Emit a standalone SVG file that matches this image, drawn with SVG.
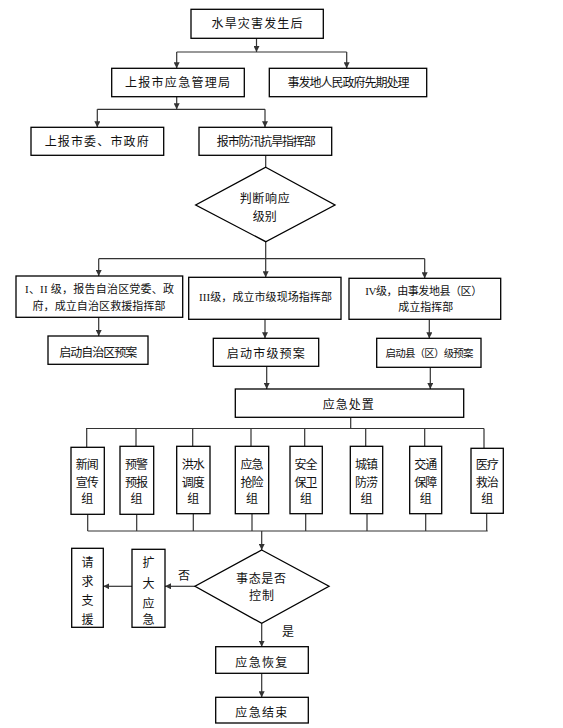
<svg xmlns="http://www.w3.org/2000/svg" width="563" height="728" viewBox="0 0 563 728">
<style>
.b{fill:#fff;stroke:#000;stroke-width:1.3}
.t{font-family:"Noto Sans CJK SC","Liberation Sans",sans-serif;font-size:12px;fill:#111;text-anchor:middle}
.s{font-size:11px}
.r{font-family:"Liberation Serif","Noto Sans CJK SC",serif}
.c path{fill:none;stroke:#333;stroke-width:1.2}
</style>
<defs>
<marker id="a" markerUnits="userSpaceOnUse" markerWidth="6" markerHeight="6" refX="6" refY="3" orient="auto">
<path d="M0,0 L6,3 L0,6 z" fill="#333"/>
</marker>
</defs>
<rect width="563" height="728" fill="#fff"/>
<g class="c">
<path d="M256.5,38.3 V52" marker-end="url(#a)"/>
<path d="M176.7,52 H346.7"/>
<path d="M176.7,52 V68.3" marker-end="url(#a)"/>
<path d="M346.7,52 V68.3" marker-end="url(#a)"/>
<path d="M176.7,96.7 V109.3" marker-end="url(#a)"/>
<path d="M97.3,109.3 H265"/>
<path d="M97.3,109.3 V127.3" marker-end="url(#a)"/>
<path d="M265,109.3 V127.3" marker-end="url(#a)"/>
<path d="M265.7,155.3 V167.3"/>
<path d="M265.7,241.7 V277.3" marker-end="url(#a)"/>
<path d="M98.7,258.7 H424.7"/>
<path d="M98.7,258.7 V276" marker-end="url(#a)"/>
<path d="M424.7,258.7 V278.3" marker-end="url(#a)"/>
<path d="M98.7,317.3 V336" marker-end="url(#a)"/>
<path d="M265,319.3 V338.3" marker-end="url(#a)"/>
<path d="M429.3,319.3 V338.3" marker-end="url(#a)"/>
<path d="M266.7,366.3 V389" marker-end="url(#a)"/>
<path d="M430.3,367.3 V389" marker-end="url(#a)"/>
<path d="M350.7,417.3 V428.5"/>
<path d="M86,428.5 H484"/>
<path d="M86.7,428.5 V447.3 M136,428.5 V446.3 M192.7,428.5 V446.3 M251,428.5 V446.3 M304.7,428.5 V446.3 M365.7,428.5 V446.3 M424.7,428.5 V446.3 M484,428.5 V448.3"/>
<path d="M87.7,514.3 V531 M136.7,514.3 V531 M193.3,513.7 V531 M252,513.7 V531 M305.7,513.7 V531 M367,513.7 V531 M425.7,513.7 V531 M486.7,513.3 V531"/>
<path d="M87.7,531 H487.7"/>
<path d="M261.7,531 V550" marker-end="url(#a)"/>
<path d="M195,586.3 H165" marker-end="url(#a)"/>
<path d="M132,586.3 H103.3" marker-end="url(#a)"/>
<path d="M261.7,623.3 V646.7" marker-end="url(#a)"/>
<path d="M261.7,673.3 V697.3" marker-end="url(#a)"/>
</g>
<g id="n1"><rect class="b" x="191" y="9.3" width="132.3" height="29"/><text class="t" x="257" y="28.3" textLength="91">水旱灾害发生后</text></g>
<g id="n2"><rect class="b" x="111.7" y="68.3" width="132.6" height="28.4"/><text class="t" x="177.5" y="86.8" textLength="105">上报市应急管理局</text></g>
<g id="n3"><rect class="b" x="269.3" y="68.3" width="157.4" height="28.4"/><text class="t" x="348.6" y="86.8" textLength="122">事发地人民政府先期处理</text></g>
<g id="n4"><rect class="b" x="31" y="127.3" width="132.7" height="28"/><text class="t" x="96.7" y="145.6" textLength="104">上报市委、市政府</text></g>
<g id="n5"><rect class="b" x="199" y="127.3" width="132.7" height="28"/><text class="t" x="266.3" y="145.6" textLength="99">报市防汛抗旱指挥部</text></g>
<g id="n6"><path class="b" d="M265.7,167.3 L335,205 L265.7,241.7 L195.7,205 Z"/><text class="t" x="264.7" y="203.3" textLength="50">判断响应</text><text class="t" x="264.7" y="221.3" textLength="24">级别</text></g>
<g id="n7"><rect class="b" x="16" y="276" width="166.7" height="41.3"/><text class="t s" x="99.5" y="292.6" textLength="149"><tspan class="r">I、II </tspan>级，报告自治区党委、政</text><text class="t s" x="99" y="310" textLength="133">府，成立自治区救援指挥部</text></g>
<g id="n8"><rect class="b" x="188.7" y="277.3" width="152.3" height="42"/><text class="t s" x="265.5" y="301" textLength="133"><tspan class="r">III</tspan>级，成立市级现场指挥部</text></g>
<g id="n9"><rect class="b" x="349" y="278.3" width="151.7" height="41"/><text class="t s" x="423.7" y="295" textLength="117"><tspan class="r">IV</tspan>级，由事发地县（区）</text><text class="t s" x="425.8" y="311" textLength="55">成立指挥部</text></g>
<g id="n10"><rect class="b" x="48" y="336" width="100" height="28.3"/><text class="t" x="98.3" y="356.6" textLength="78">启动自治区预案</text></g>
<g id="n11"><rect class="b" x="213.3" y="338.3" width="105.4" height="28"/><text class="t" x="265.8" y="357.6" textLength="78">启动市级预案</text></g>
<g id="n12"><rect class="b" x="376.7" y="338.3" width="104.3" height="29"/><text class="t" x="429.5" y="357.3" style="font-size:10.5px" textLength="88">启动县（区）级预案</text></g>
<g id="n13"><rect class="b" x="235.3" y="389" width="228.4" height="28.3"/><text class="t" x="348.3" y="408.6" textLength="51">应急处置</text></g>
<g id="g1"><rect class="b" x="71" y="447.3" width="33.3" height="67"/><text class="t" x="87.2" y="469.3" textLength="23">新闻</text><text class="t" x="87.2" y="486.6" textLength="23">宣传</text><text class="t" x="87.2" y="502.6">组</text></g>
<g id="g2"><rect class="b" x="120" y="446.3" width="33.7" height="68"/><text class="t" x="136.5" y="469.3" textLength="23">预警</text><text class="t" x="136.5" y="486.6" textLength="23">预报</text><text class="t" x="136.5" y="502.6">组</text></g>
<g id="g3"><rect class="b" x="176.7" y="446.3" width="33.3" height="67.4"/><text class="t" x="193.3" y="469.3" textLength="23">洪水</text><text class="t" x="193.3" y="486.6" textLength="23">调度</text><text class="t" x="193.3" y="502.6">组</text></g>
<g id="g4"><rect class="b" x="235.3" y="446.3" width="33.4" height="67.4"/><text class="t" x="252" y="469.3" textLength="23">应急</text><text class="t" x="252" y="486.6" textLength="23">抢险</text><text class="t" x="252" y="502.6">组</text></g>
<g id="g5"><rect class="b" x="290" y="446.3" width="32.3" height="67.4"/><text class="t" x="306" y="469.3" textLength="23">安全</text><text class="t" x="306" y="486.6" textLength="23">保卫</text><text class="t" x="306" y="502.6">组</text></g>
<g id="g6"><rect class="b" x="350.3" y="446.3" width="32.4" height="67.4"/><text class="t" x="366.5" y="469.3" textLength="23">城镇</text><text class="t" x="366.5" y="486.6" textLength="23">防涝</text><text class="t" x="366.5" y="502.6">组</text></g>
<g id="g7"><rect class="b" x="409.7" y="446.3" width="32" height="67.4"/><text class="t" x="425.7" y="469.3" textLength="23">交通</text><text class="t" x="425.7" y="486.6" textLength="23">保障</text><text class="t" x="425.7" y="502.6">组</text></g>
<g id="g8"><rect class="b" x="471" y="448.3" width="32.3" height="65"/><text class="t" x="487.2" y="469.3" textLength="23">医疗</text><text class="t" x="487.2" y="486.6" textLength="23">救治</text><text class="t" x="487.2" y="502.6">组</text></g>
<g id="n14"><path class="b" d="M261.7,550 L329,586.3 L261.7,623.3 L195,586.3 Z"/><text class="t" x="261" y="583.3" textLength="50">事态是否</text><text class="t" x="261.5" y="599.6" textLength="25">控制</text></g>
<g id="n15"><rect class="b" x="132" y="549.3" width="33" height="78"/><text class="t" x="148.5" y="567">扩</text><text class="t" x="148.5" y="587.6">大</text><text class="t" x="148.5" y="607.6">应</text><text class="t" x="148.5" y="623.6">急</text></g>
<g id="n16"><rect class="b" x="71.7" y="548.3" width="31.6" height="79"/><text class="t" x="87.5" y="567">请</text><text class="t" x="87.5" y="586">求</text><text class="t" x="87.5" y="605.3">支</text><text class="t" x="87.5" y="623.6">援</text></g>
<g id="l1"><text class="t" x="184" y="580.3">否</text><text class="t" x="288" y="636">是</text></g>
<g id="n17"><rect class="b" x="215.7" y="646.7" width="92.6" height="26.6"/><text class="t" x="261.3" y="667" textLength="52">应急恢复</text></g>
<g id="n18"><rect class="b" x="215.7" y="697.3" width="92.6" height="25.7"/><text class="t" x="261.3" y="717" textLength="52">应急结束</text></g>
</svg>
